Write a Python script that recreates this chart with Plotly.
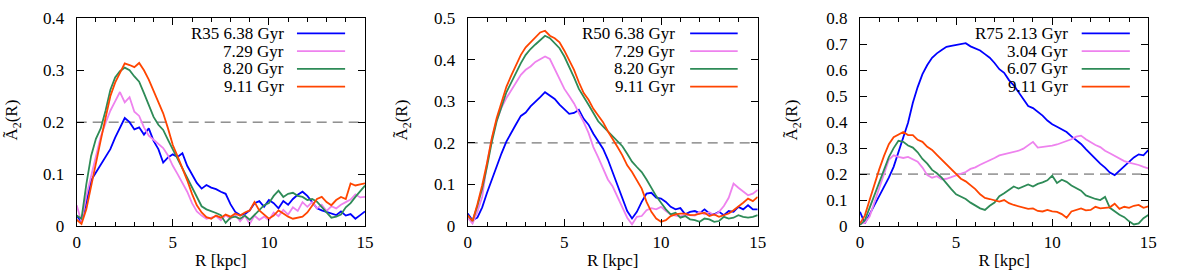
import plotly.graph_objects as go

# Radius grid [kpc]
R = [0.0, 0.25, 0.5, 0.75, 1.0, 1.25, 1.5, 1.75, 2.0, 2.25, 2.5, 2.75, 3.0, 3.25, 3.5, 3.75,
     4.0, 4.25, 4.5, 4.75, 5.0, 5.25, 5.5, 5.75, 6.0, 6.25, 6.5, 6.75, 7.0, 7.25, 7.5, 7.75,
     8.0, 8.25, 8.5, 8.75, 9.0, 9.25, 9.5, 9.75, 10.0, 10.25, 10.5, 10.75, 11.0, 11.25, 11.5, 11.75,
     12.0, 12.25, 12.5, 12.75, 13.0, 13.25, 13.5, 13.75, 14.0, 14.25, 14.5, 14.75, 15.0]

# ---- Panel 1: R35 ----
r35_638 = [0.020, 0.008, 0.045, 0.088, 0.103, 0.118, 0.135, 0.148, 0.170, 0.188, 0.208, 0.200, 0.186, 0.190, 0.176, 0.188,
           0.164, 0.148, 0.122, 0.132, 0.138, 0.133, 0.140, 0.116, 0.100, 0.083, 0.072, 0.079, 0.074, 0.071, 0.066, 0.062,
           0.042, 0.027, 0.021, 0.023, 0.030, 0.044, 0.048, 0.037, 0.050, 0.044, 0.034, 0.048, 0.041, 0.052, 0.060, 0.066,
           0.058, 0.047, 0.034, 0.030, 0.027, 0.024, 0.021, 0.028, 0.020, 0.023, 0.014, 0.021, 0.028]
r35_729 = [0.040, 0.008, 0.058, 0.098, 0.138, 0.172, 0.198, 0.222, 0.240, 0.258, 0.238, 0.248, 0.220, 0.212, 0.190, 0.174,
           0.166, 0.158, 0.150, 0.136, 0.116, 0.100, 0.084, 0.066, 0.044, 0.028, 0.020, 0.014, 0.016, 0.019, 0.011, 0.021,
           0.014, 0.022, 0.009, 0.020, 0.004, 0.020, 0.012, 0.018, 0.011, 0.026, 0.019, 0.031, 0.022, 0.036, 0.029, 0.046,
           0.037, 0.046, 0.034, 0.041, 0.029, 0.038, 0.034, 0.041, 0.046, 0.051, 0.061, 0.055, 0.056]
r35_820 = [0.020, 0.014, 0.080, 0.135, 0.168, 0.188, 0.222, 0.262, 0.286, 0.298, 0.305, 0.300, 0.288, 0.278, 0.256, 0.234,
           0.210, 0.195, 0.185, 0.166, 0.148, 0.128, 0.110, 0.092, 0.074, 0.055, 0.038, 0.032, 0.029, 0.025, 0.021, 0.006,
           0.016, 0.018, 0.014, 0.020, 0.012, 0.022, 0.030, 0.040, 0.044, 0.058, 0.068, 0.056, 0.062, 0.064, 0.058, 0.056,
           0.050, 0.052, 0.047, 0.036, 0.025, 0.016, 0.018, 0.022, 0.036, 0.044, 0.056, 0.068, 0.078]
r35_911 = [0.012, 0.004, 0.032, 0.078, 0.118, 0.165, 0.208, 0.250, 0.276, 0.296, 0.313, 0.310, 0.306, 0.314, 0.300, 0.282,
           0.260, 0.236, 0.217, 0.188, 0.156, 0.134, 0.112, 0.088, 0.062, 0.040, 0.026, 0.017, 0.014, 0.020, 0.016, 0.022,
           0.018, 0.024, 0.020, 0.026, 0.030, 0.046, 0.030, 0.022, 0.014, 0.020, 0.030, 0.024, 0.018, 0.014, 0.016, 0.018,
           0.026, 0.040, 0.052, 0.056, 0.046, 0.040, 0.050, 0.056, 0.052, 0.082, 0.078, 0.080, 0.082]

# ---- Panel 2: R50 ----
r50_638 = [0.030, 0.014, 0.020, 0.045, 0.080, 0.112, 0.145, 0.175, 0.203, 0.225, 0.245, 0.265, 0.273, 0.288, 0.298, 0.310,
           0.322, 0.315, 0.306, 0.292, 0.282, 0.270, 0.272, 0.280, 0.258, 0.244, 0.222, 0.205, 0.186, 0.160, 0.130, 0.100,
           0.068, 0.036, 0.018, 0.034, 0.058, 0.078, 0.080, 0.068, 0.066, 0.058, 0.046, 0.040, 0.043, 0.028, 0.034, 0.036,
           0.031, 0.040, 0.030, 0.028, 0.034, 0.026, 0.036, 0.034, 0.046, 0.040, 0.050, 0.040, 0.040]
r50_729 = [0.020, 0.006, 0.034, 0.070, 0.150, 0.210, 0.255, 0.285, 0.308, 0.326, 0.346, 0.364, 0.376, 0.384, 0.395, 0.402,
           0.408, 0.402, 0.378, 0.350, 0.330, 0.313, 0.295, 0.272, 0.250, 0.224, 0.190, 0.165, 0.140, 0.112, 0.095, 0.068,
           0.045, 0.020, 0.004, 0.022, 0.024, 0.038, 0.043, 0.040, 0.046, 0.036, 0.028, 0.025, 0.023, 0.027, 0.026, 0.025,
           0.034, 0.028, 0.033, 0.026, 0.034, 0.048, 0.068, 0.102, 0.092, 0.084, 0.074, 0.078, 0.087]
r50_820 = [0.026, 0.012, 0.048, 0.090, 0.143, 0.203, 0.252, 0.290, 0.322, 0.345, 0.370, 0.392, 0.412, 0.426, 0.437, 0.448,
           0.458, 0.452, 0.440, 0.428, 0.408, 0.384, 0.358, 0.330, 0.312, 0.292, 0.272, 0.252, 0.240, 0.228, 0.217, 0.204,
           0.192, 0.174, 0.155, 0.142, 0.130, 0.112, 0.092, 0.072, 0.056, 0.040, 0.028, 0.032, 0.020, 0.024, 0.016, 0.014,
           0.010, 0.018, 0.016, 0.010, 0.012, 0.022, 0.018, 0.020, 0.026, 0.022, 0.020, 0.022, 0.026]
r50_911 = [0.026, 0.012, 0.052, 0.098, 0.152, 0.212, 0.260, 0.300, 0.335, 0.362, 0.386, 0.412, 0.430, 0.442, 0.452, 0.466,
           0.470, 0.458, 0.452, 0.442, 0.422, 0.398, 0.376, 0.346, 0.320, 0.304, 0.282, 0.266, 0.250, 0.228, 0.210, 0.190,
           0.170, 0.146, 0.130, 0.110, 0.090, 0.058, 0.034, 0.018, 0.010, 0.014, 0.024, 0.028, 0.030, 0.030, 0.026, 0.027,
           0.030, 0.032, 0.024, 0.028, 0.022, 0.026, 0.030, 0.038, 0.046, 0.056, 0.066, 0.060, 0.070]

# ---- Panel 3: R75 ----
r75_213 = [0.055, 0.010, 0.045, 0.080, 0.112, 0.148, 0.186, 0.228, 0.285, 0.342, 0.398, 0.475, 0.535, 0.585, 0.620, 0.648,
           0.665, 0.678, 0.690, 0.694, 0.697, 0.700, 0.704, 0.692, 0.684, 0.676, 0.662, 0.648, 0.628, 0.604, 0.590, 0.562,
           0.542, 0.515, 0.485, 0.462, 0.454, 0.440, 0.425, 0.406, 0.392, 0.382, 0.372, 0.362, 0.345, 0.330, 0.316, 0.296,
           0.276, 0.258, 0.240, 0.225, 0.206, 0.196, 0.214, 0.232, 0.250, 0.264, 0.276, 0.272, 0.292]
r75_304 = [0.008, 0.012, 0.036, 0.088, 0.140, 0.200, 0.255, 0.272, 0.266, 0.262, 0.266, 0.258, 0.248, 0.225, 0.196, 0.186,
           0.192, 0.180, 0.182, 0.188, 0.194, 0.200, 0.208, 0.220, 0.226, 0.236, 0.244, 0.254, 0.262, 0.272, 0.276, 0.282,
           0.286, 0.290, 0.298, 0.310, 0.324, 0.302, 0.304, 0.306, 0.310, 0.314, 0.320, 0.325, 0.334, 0.344, 0.348, 0.334,
           0.322, 0.312, 0.304, 0.290, 0.280, 0.270, 0.260, 0.250, 0.244, 0.240, 0.235, 0.228, 0.222]
r75_607 = [0.004, 0.022, 0.070, 0.120, 0.170, 0.222, 0.265, 0.300, 0.328, 0.324, 0.310, 0.302, 0.284, 0.258, 0.240, 0.216,
           0.203, 0.186, 0.162, 0.142, 0.122, 0.114, 0.104, 0.090, 0.078, 0.068, 0.062, 0.078, 0.090, 0.115, 0.126, 0.138,
           0.152, 0.144, 0.152, 0.160, 0.152, 0.162, 0.168, 0.176, 0.194, 0.166, 0.178, 0.170, 0.156, 0.146, 0.136, 0.118,
           0.110, 0.104, 0.100, 0.112, 0.070, 0.056, 0.043, 0.034, 0.018, 0.006, 0.010, 0.030, 0.042]
r75_911 = [0.010, 0.040, 0.100, 0.160, 0.218, 0.270, 0.315, 0.342, 0.352, 0.362, 0.350, 0.350, 0.332, 0.324, 0.305, 0.293,
           0.274, 0.255, 0.238, 0.220, 0.200, 0.182, 0.172, 0.158, 0.142, 0.122, 0.108, 0.104, 0.098, 0.094, 0.100, 0.088,
           0.081, 0.076, 0.070, 0.066, 0.068, 0.058, 0.056, 0.062, 0.056, 0.054, 0.046, 0.032, 0.056, 0.062, 0.068, 0.060,
           0.062, 0.074, 0.068, 0.070, 0.072, 0.086, 0.066, 0.074, 0.070, 0.078, 0.081, 0.070, 0.076]

panel_names = ["R35", "R50", "R75"]
panel_labels = [["6.38 Gyr", "7.29 Gyr", "8.20 Gyr", "9.11 Gyr"],
                ["6.38 Gyr", "7.29 Gyr", "8.20 Gyr", "9.11 Gyr"],
                ["2.13 Gyr", "3.04 Gyr", "6.07 Gyr", "9.11 Gyr"]]
panel_series = [[r35_638, r35_729, r35_820, r35_911],
                [r50_638, r50_729, r50_820, r50_911],
                [r75_213, r75_304, r75_607, r75_911]]
y_max = [0.4, 0.5, 0.8]
bar_threshold = 0.2
y_title = "Ã<sub>2</sub>(R)"
x_title = "R [kpc]"

colors = ["#0000ff", "#ee82ee", "#2e8b57", "#ff4500"]
FONT = "Liberation Serif, Times New Roman, Times, serif"
FS = 17

W, H = 1177, 275
x_px = [(76.7, 365.0), (467.7, 757.7), (860.0, 1148.3)]
y_top, y_bot = 18.3, 226.0
ytitle_px = [13.5, 403.5, 793.5]

fig = go.Figure()
layout = dict(
    width=W, height=H, margin=dict(l=0, r=0, t=0, b=0, autoexpand=False),
    paper_bgcolor="white", plot_bgcolor="white", showlegend=False,
    font=dict(family=FONT, size=FS, color="black"),
)
shapes, annotations = [], []
ydom = [1 - y_bot / H, 1 - y_top / H]
legend_text_x = [0.726, 0.721, 0.728]
legend_line_x = [(0.764, 0.931), (0.767, 0.931), (0.769, 0.936)]
row_px = [33.3, 51.1, 68.9, 86.7]

for p in range(3):
    sfx = "" if p == 0 else str(p + 1)
    xa, ya = "x" + sfx, "y" + sfx
    for k in range(4):
        fig.add_trace(go.Scatter(x=R, y=panel_series[p][k], mode="lines",
                                 line=dict(color=colors[k], width=1.8),
                                 xaxis=xa, yaxis=ya, name=panel_labels[p][k]))
    axcommon = dict(showline=True, linecolor="black", linewidth=1, mirror="allticks",
                    ticks="inside", tickcolor="black", showgrid=False, zeroline=False,
                    automargin=False, tickfont=dict(family=FONT, size=FS, color="black"))
    layout["xaxis" + sfx] = dict(
        domain=[x_px[p][0] / W, x_px[p][1] / W], anchor=ya, range=[0, 15],
        tickvals=[0, 5, 10, 15], ticklen=7,
        minor=dict(tickvals=[1, 2, 3, 4, 6, 7, 8, 9, 11, 12, 13, 14], ticklen=4, ticks="inside", tickcolor="black"),
        title=dict(text=x_title, standoff=2, font=dict(family=FONT, size=FS, color="black")),
        ticklabelstandoff=1, **axcommon)
    nt = int(round(y_max[p] / 0.1))
    layout["yaxis" + sfx] = dict(
        domain=ydom, anchor=xa, range=[0, y_max[p]],
        tickvals=[round(0.1 * i, 1) for i in range(nt + 1)],
        ticktext=["0"] + ["%.1f" % (0.1 * i) for i in range(1, nt + 1)], ticklen=7,
        ticklabelstandoff=8, **axcommon)
    # y-axis title placed explicitly (rotated)
    annotations.append(dict(xref="paper", yref=ya + " domain", x=ytitle_px[p] / W, y=0.51,
                            text=y_title, textangle=-90, showarrow=False,
                            xanchor="center", yanchor="middle",
                            font=dict(family=FONT, size=FS, color="black")))
    # threshold dashed line
    shapes.append(dict(type="line", xref=xa + " domain", yref=ya, x0=0, x1=1,
                       y0=bar_threshold, y1=bar_threshold,
                       line=dict(color="#555555", width=1, dash="10px,6px"), layer="below"))
    # key (text on left, line sample on right, gnuplot-style)
    for k in range(4):
        yd = (y_bot - row_px[k]) / (y_bot - y_top)
        label = (panel_names[p] + " " + panel_labels[p][k]) if k == 0 else panel_labels[p][k]
        annotations.append(dict(xref=xa + " domain", yref=ya + " domain", x=legend_text_x[p], y=yd,
                                text=label, showarrow=False, xanchor="right", yanchor="middle",
                                font=dict(family=FONT, size=FS, color="black")))
        shapes.append(dict(type="line", xref=xa + " domain", yref=ya + " domain",
                           x0=legend_line_x[p][0], x1=legend_line_x[p][1], y0=yd, y1=yd,
                           line=dict(color=colors[k], width=1.8)))

layout["shapes"] = shapes
layout["annotations"] = annotations
fig.update_layout(**layout)
fig.write_html("out.html", config={"displayModeBar": False},
               post_script="document.body.style.margin='0';document.body.style.padding='0';")
